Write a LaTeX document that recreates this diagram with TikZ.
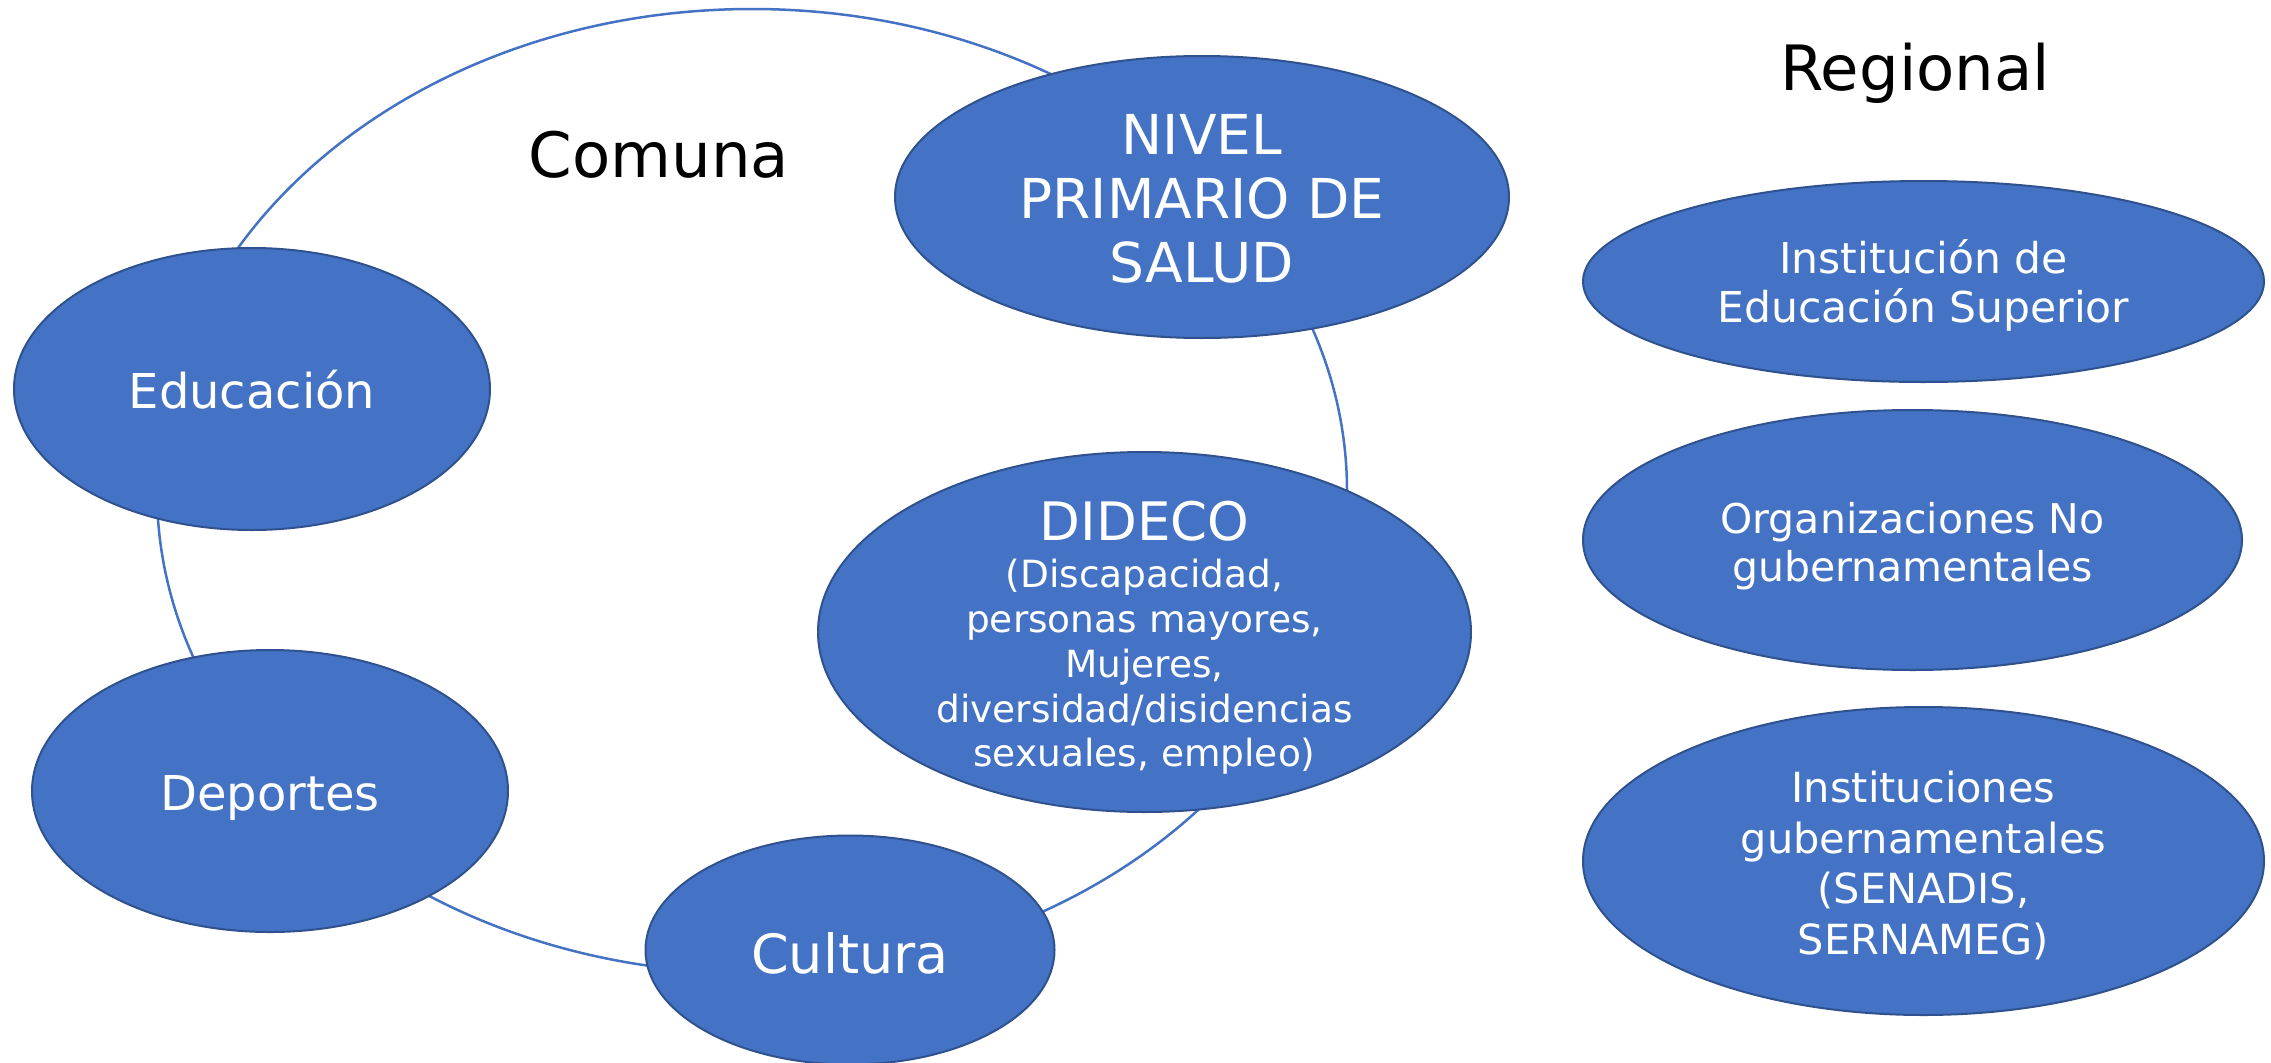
\documentclass[tikz,border=0pt]{standalone}
\usepackage{fontspec}
\setmainfont{DejaVu Sans}
\usetikzlibrary{shapes.geometric}
\definecolor{blu}{HTML}{4472C4}
\definecolor{bluedge}{HTML}{2F528F}
\newcommand{\lowerby}[1]{\rule{0pt}{#1}}
\begin{document}
\begin{tikzpicture}[x=1pt,y=-1pt,
  blob/.style={ellipse, fill=blu, draw=bluedge, line width=2pt, inner sep=0pt, text=white, align=center},
  ring/.style={ellipse, draw=blu, line width=2.5pt, inner sep=0pt},
  title/.style={text=black, anchor=base, inner sep=0pt, font=\fontsize{62.5}{74}\selectfont}]
\useasboundingbox (0,0) rectangle (2271,1063);
\node[ring, minimum width=1190pt, minimum height=964pt] (ring) at (752,491) {};
\node[blob, minimum width=614pt, minimum height=282pt, font=\fontsize{55}{64}\selectfont] (nivel) at (1202,197) {\lowerby{43pt}NIVEL\\PRIMARIO DE\\SALUD};
\node[blob, minimum width=476pt, minimum height=282pt, font=\fontsize{48}{58}\selectfont] (educ) at (252,389) {\lowerby{39pt}Educación};
\node[blob, minimum width=476pt, minimum height=282pt, font=\fontsize{48}{58}\selectfont] (dep) at (270,791) {\lowerby{48pt}Deportes};
\node[blob, minimum width=409pt, minimum height=229pt, font=\fontsize{54}{64}\selectfont] (cult) at (850,950) {\lowerby{47pt}Cultura};
\node[blob, minimum width=653pt, minimum height=360pt, inner ysep=-22pt, font=\fontsize{37.5}{44.8}\selectfont] (dideco) at (1144.5,632) {\lowerby{51pt}{\fontsize{53}{53}\selectfont DIDECO}\\[2.5pt](Discapacidad,\\personas mayores,\\Mujeres,\\diversidad/disidencias\\sexuales, empleo)};
\node[blob, minimum width=681pt, minimum height=201pt, font=\fontsize{42.5}{48.3}\selectfont] (ies) at (1923.5,281.5) {\lowerby{42pt}Institución de\\Educación Superior};
\node[blob, minimum width=659pt, minimum height=260pt, font=\fontsize{41}{48.3}\selectfont] (ong) at (1912.5,540) {\lowerby{43pt}Organizaciones No\\gubernamentales};
\node[blob, minimum width=681pt, minimum height=308pt, font=\fontsize{41.5}{50.5}\selectfont] (gob) at (1923.5,861) {\lowerby{40pt}Instituciones\\gubernamentales\\(SENADIS,\\SERNAMEG)};
\node[title] (comuna) at (659,177.7) {Comuna};
\node[title] (regional) at (1915,90) {Regional};
\end{tikzpicture}
\end{document}
